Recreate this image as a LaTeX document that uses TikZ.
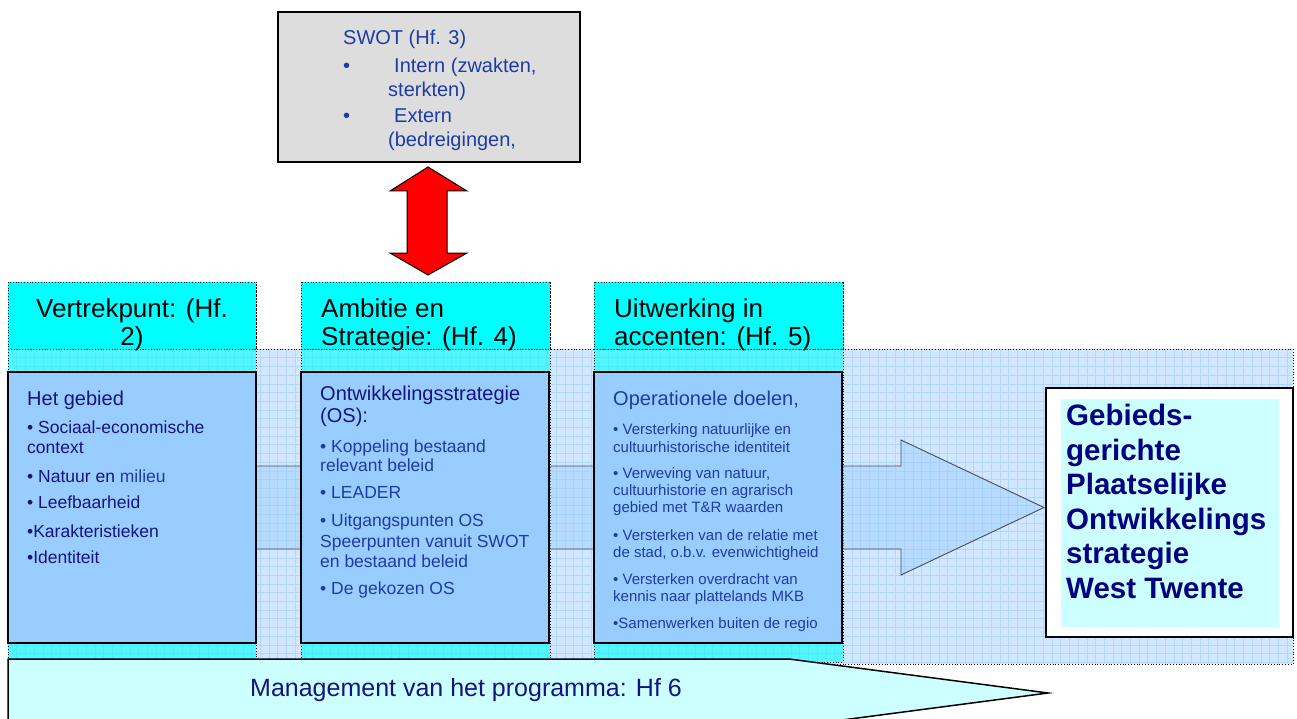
\documentclass[tikz,border=0pt]{standalone}
\usepackage{fontspec}
\setmainfont{Liberation Sans}
\definecolor{navy}{RGB}{20,20,128}
\definecolor{btxt}{RGB}{30,60,165}
\definecolor{bgblue}{RGB}{208,231,255}
\definecolor{gridblue}{RGB}{178,214,255}
\definecolor{boxblue}{RGB}{153,204,255}
\definecolor{lightcyan}{RGB}{204,255,255}
\definecolor{truecyan}{RGB}{0,255,255}
\definecolor{swotgray}{RGB}{221,221,221}
\definecolor{resnavy}{RGB}{0,0,128}
\begin{document}
\begin{tikzpicture}[x=1pt,y=-1pt,
  txt/.style={anchor=base west, inner sep=0pt},
  ctxt/.style={anchor=base, inner sep=0pt},
  hdrbox/.style={fill=truecyan, draw=black, dotted, line width=0.8pt},
  colbox/.style={draw=black, dotted, line width=0.8pt},
  contentbox/.style={fill=boxblue, draw=black, line width=1.5pt},
  hdrfont/.style={font=\fontsize{26}{28}\selectfont, text=black},
  headfont/.style={font=\fontsize{20}{22}\selectfont},
  bulA/.style={font=\fontsize{17.5}{20}\selectfont, text=navy},
  bulB/.style={font=\fontsize{17.5}{20}\selectfont, text=btxt},
  bulC/.style={font=\fontsize{15}{17}\selectfont, text=btxt},
]
\useasboundingbox (0,0) rectangle (1297,719);
\clip (0,0) rectangle (1297,719);

% background with grid
\fill[bgblue] (8,349) rectangle (1293,664);
\begin{scope}
  \clip (8,349) rectangle (1293,664);
  \foreach \gx in {8,16.7,...,1300} \draw[gridblue, line width=0.5pt] (\gx,349) -- (\gx,664);
  \foreach \gy in {349,357.7,...,670} \draw[gridblue, line width=0.5pt] (8,\gy) -- (1293,\gy);
\end{scope}
\draw[black, dotted, line width=0.8pt] (8,349) -- (1293,349) -- (1293,664) -- (8,664);

% cyan columns
\foreach \xa/\xb in {8/256, 301/550, 594/843} {
  \fill[truecyan, opacity=0.6] (\xa,349) rectangle (\xb,662);
  \draw[colbox] (\xa,282) rectangle (\xb,662);
  \draw[hdrbox] (\xa,282) rectangle (\xb,349);
}

% big arrow
\draw[fill=boxblue, fill opacity=0.45, draw=black!70, line width=0.9pt]
  (30,466) -- (901,466) -- (901,440) -- (1044,507.5) -- (901,575) -- (901,549) -- (30,549) -- cycle;

% content boxes
\draw[contentbox] (8,372) rectangle (256,643);
\draw[contentbox] (301,372) rectangle (549,643);
\draw[contentbox] (594,372) rectangle (842,643);

% result box
\draw[fill=white, draw=black, line width=1.5pt] (1046,388) rectangle (1293,637);
\fill[lightcyan] (1061,399) rectangle (1279,627);
\foreach \i/\y/\t in {1/425/{Gebieds-}, 2/460/{gerichte}, 3/494.5/{Plaatselijke},
  4/529/{Ontwikkelings}, 5/563.5/{strategie}, 6/598/{West Twente}}
  \node[txt, font=\fontsize{29.5}{35}\selectfont\bfseries, text=resnavy] (r\i) at (1066,\y) {\t};

% headers
\node[ctxt, hdrfont] (h1a) at (132,317) {Vertrekpunt: (Hf.};
\node[ctxt, hdrfont] (h1b) at (132,345) {2)};
\node[txt, hdrfont] (h2a) at (321,317) {Ambitie en};
\node[txt, hdrfont] (h2b) at (321,345) {Strategie: (Hf. 4)};
\node[txt, hdrfont] (h3a) at (614,317) {Uitwerking in};
\node[txt, hdrfont] (h3b) at (614,345) {accenten: (Hf. 5)};

% box A text
\node[txt, headfont, text=navy] (a0) at (27,405) {Het gebied};
\node[txt, bulA] (a1) at (27,433) {• Sociaal-economische};
\node[txt, bulA] (a2) at (27,453) {context};
\node[txt, bulA] (a3) at (27,482) {• Natuur en \textcolor{btxt}{milieu}};
\node[txt, bulA] (a4) at (27,508) {• Leefbaarheid};
\node[txt, bulA] (a5) at (27,537) {•Karakteristieken};
\node[txt, bulA] (a6) at (27,563) {•Identiteit};

% box B text
\node[txt, headfont, text=navy] (b0) at (320,400) {Ontwikkelingsstrategie};
\node[txt, headfont, text=navy] (b1) at (320,422) {(OS):};
\node[txt, bulB] (b2) at (320,452) {• Koppeling bestaand};
\node[txt, bulB] (b3) at (320,471) {relevant beleid};
\node[txt, bulB] (b4) at (320,498) {• LEADER};
\node[txt, bulB] (b5) at (320,526) {• Uitgangspunten OS};
\node[txt, bulB] (b6) at (320,547) {Speerpunten vanuit SWOT};
\node[txt, bulB] (b7) at (320,567) {en bestaand beleid};
\node[txt, bulB] (b8) at (320,594) {• De gekozen OS};

% box C text
\node[txt, headfont, text=btxt] (c0) at (613,405) {Operationele doelen,};
\foreach \i/\y/\t in {1/434/{• Versterking natuurlijke en}, 2/452/{cultuurhistorische identiteit},
  3/478/{• Verweving van natuur,}, 4/495/{cultuurhistorie en agrarisch}, 5/512/{gebied met T\&R waarden},
  6/540/{• Versterken van de relatie met}, 7/557/{de stad, o.b.v. evenwichtigheid},
  8/584/{• Versterken overdracht van}, 9/601/{kennis naar plattelands MKB},
  10/628/{•Samenwerken buiten de regio}}
  \node[txt, bulC] (c\i) at (613,\y) {\t};

% management arrow
\draw[fill=lightcyan, draw=black, line width=1.5pt]
  (8,659) -- (789,659) -- (1048,693) -- (789,727) -- (8,727) -- cycle;
\node[txt, font=\fontsize{25}{28}\selectfont, text=navy] (mgmt) at (250,696) {Management van het programma: Hf 6};

% SWOT box
\draw[fill=swotgray, draw=black, line width=1.2pt] (278,12) rectangle (580,162);
\node[txt, font=\fontsize{20}{22}\selectfont, text=btxt] (s0) at (343,45) {SWOT (Hf. 3)};
\node[txt, font=\fontsize{20}{22}\selectfont, text=btxt] (s1) at (343,73) {•};
\node[txt, font=\fontsize{20}{22}\selectfont, text=btxt] (s2) at (394,73) {Intern (zwakten,};
\node[txt, font=\fontsize{20}{22}\selectfont, text=btxt] (s3) at (388,97) {sterkten)};
\node[txt, font=\fontsize{20}{22}\selectfont, text=btxt] (s4) at (343,123) {•};
\node[txt, font=\fontsize{20}{22}\selectfont, text=btxt] (s5) at (394,123) {Extern};
\node[txt, font=\fontsize{20}{22}\selectfont, text=btxt] (s6) at (388,147) {(bedreigingen,};

% red double arrow
\draw[fill=red, draw=black, line width=1pt]
  (428,167) -- (467,191) -- (447,191) -- (447,253) -- (467,253) -- (428,275)
  -- (390,253) -- (407,253) -- (407,191) -- (390,191) -- cycle;
\end{tikzpicture}
\end{document}
